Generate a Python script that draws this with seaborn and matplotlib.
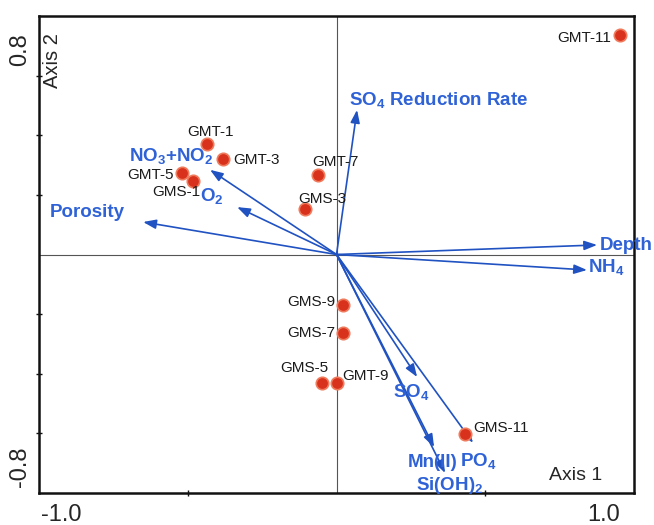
import matplotlib
matplotlib.use("Agg")
import matplotlib.pyplot as plt
import seaborn as sns
import pandas as pd

# =========================================================
# DATOS
# =========================================================
muestras = ["GMT-11", "GMT-1", "GMT-3", "GMT-5", "GMS-1", "GMT-7",
            "GMS-3", "GMS-9", "GMS-7", "GMS-5", "GMT-9", "GMS-11"]
eje1_muestras = [0.953, -0.435, -0.382, -0.519, -0.482, -0.062,
                 -0.106, 0.022, 0.022, -0.049, 0.000, 0.432]
eje2_muestras = [0.737, 0.372, 0.322, 0.273, 0.247, 0.267,
                 0.153, -0.169, -0.263, -0.431, -0.431, -0.602]

variables = [r"SO$_\mathbf{4}$ Reduction Rate", r"NO$_\mathbf{3}$+NO$_\mathbf{2}$",
             r"O$_\mathbf{2}$", "Porosity", "Depth", r"NH$_\mathbf{4}$",
             r"SO$_\mathbf{4}$", "Mn(II)", r"PO$_\mathbf{4}$", r"Si(OH)$_\mathbf{2}$"]
eje1_vars = [0.069, -0.425, -0.334, -0.650, 0.876, 0.842, 0.271, 0.328, 0.459, 0.365]
eje2_vars = [0.485, 0.284, 0.159, 0.109, 0.032, -0.052, -0.411, -0.646, -0.632, -0.733]

df = pd.DataFrame({"muestra": muestras, "x": eje1_muestras, "y": eje2_muestras})

# desplazamientos de etiquetas (pixeles) y alineación
offs_muestras = {
    "GMT-11": (-9, -3, "right"), "GMT-1": (3, 12, "center"),
    "GMT-3": (10, -1, "left"), "GMT-5": (-8, -2, "right"),
    "GMS-1": (7, -11, "right"), "GMT-7": (-6, 13, "left"),
    "GMS-3": (-7, 10, "left"), "GMS-9": (-8, 3, "right"),
    "GMS-7": (-8, 0, "right"), "GMS-5": (6, 15, "right"),
    "GMT-9": (6, 7, "left"), "GMS-11": (8, 6, "left"),
}
offs_vars = [(-8, 4, "left"), (3, 8, "right"), (-37, 5, "left"), (-18, 5, "right"),
             (3, -5, "left"), (1, -3, "left"), (-24, -21, "left"),
             (-26, -20, "left"), (-13, -24, "left"), (-29, -17, "left")]

# =========================================================
# ESTILO
# =========================================================
sns.set_style("white")
plt.rcParams["font.family"] = ["Liberation Sans", "DejaVu Sans"]
plt.rcParams["mathtext.fontset"] = "custom"
plt.rcParams["mathtext.rm"] = "Liberation Sans"
plt.rcParams["mathtext.bf"] = "Liberation Sans:bold"

AZUL_FLECHA = "#2052c2"
AZUL_TEXTO = "#2f62d6"
ROJO = "#d8321c"

fig = plt.figure(figsize=(6.54, 5.25), dpi=100)
ax = fig.add_axes([39 / 654, 32 / 525, 595 / 654, 477 / 525])
ax.set_xlim(-1.0, 1.0)
ax.set_ylim(-0.8, 0.8)

ax.axhline(0, color="#555555", lw=0.8, zorder=1)
ax.axvline(0, color="#555555", lw=0.8, zorder=1)

# flechas de variables
for nombre, vx, vy, (dx, dy, ha) in zip(variables, eje1_vars, eje2_vars, offs_vars):
    ax.annotate("", xy=(vx, vy), xytext=(0, 0),
                arrowprops=dict(arrowstyle="-|>,head_length=0.55,head_width=0.2",
                                color=AZUL_FLECHA, lw=1.2, mutation_scale=14,
                                shrinkA=0, shrinkB=0), zorder=3)
    ax.annotate(nombre, xy=(vx, vy), xytext=(dx, dy), textcoords="offset pixels",
                ha=ha, va="baseline", color=AZUL_TEXTO, fontsize=13.5,
                fontweight="bold", annotation_clip=False, zorder=4)

# muestras
sns.scatterplot(data=df, x="x", y="y", ax=ax, s=80, color=ROJO,
                edgecolor="#f07a5c", linewidth=1.2, zorder=5, legend=False)
for _, fila in df.iterrows():
    dx, dy, ha = offs_muestras[fila["muestra"]]
    ax.annotate(fila["muestra"], xy=(fila["x"], fila["y"]), xytext=(dx, dy),
                textcoords="offset pixels", ha=ha, va="center",
                fontsize=11, color="#1a1a1a", zorder=6)

# marco y marcas
for lado in ["top", "right", "bottom", "left"]:
    ax.spines[lado].set_color("#111111")
    ax.spines[lado].set_linewidth(1.8)
ax.set_xticks([-0.5, 0.5])
ax.set_yticks([-0.6, -0.4, -0.2, 0.2, 0.4, 0.6])
ax.tick_params(direction="inout", length=5, width=1, color="#111111",
               labelbottom=False, labelleft=False, bottom=True, left=True)
ax.set_xlabel("")
ax.set_ylabel("")

# etiquetas de extremos de ejes
fig.text(20 / 654, 1 - 50 / 525, "0.8", rotation=90, ha="center", va="center", fontsize=17)
fig.text(20 / 654, 1 - 467 / 525, "-0.8", rotation=90, ha="center", va="center", fontsize=17)
fig.text(61 / 654, 1 - 515 / 525, "-1.0", ha="center", va="center", fontsize=17)
fig.text(604 / 654, 1 - 515 / 525, "1.0", ha="center", va="center", fontsize=17)
fig.text(53 / 654, 1 - 61 / 525, "Axis 2", rotation=90, ha="center", va="center", fontsize=14.5)
fig.text(576 / 654, 1 - 476 / 525, "Axis 1", ha="center", va="center", fontsize=14)

fig.savefig("out.png", dpi=100)
